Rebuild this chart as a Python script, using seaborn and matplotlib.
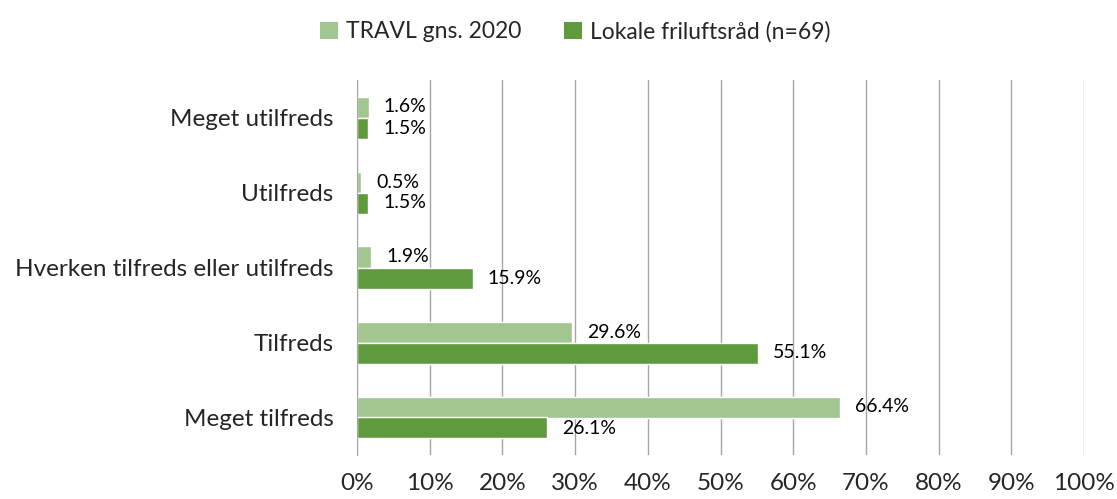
import matplotlib
matplotlib.use('Agg')
import matplotlib.pyplot as plt
import seaborn as sns
import pandas as pd
import numpy as np
from matplotlib.patches import Patch

categories = ['Meget utilfreds', 'Utilfreds', 'Hverken tilfreds eller utilfreds', 'Tilfreds', 'Meget tilfreds']
series_names = ['TRAVL gns. 2020', 'Lokale friluftsråd (n=69)']
travl = [1.6, 0.5, 1.9, 29.6, 66.4]
lokale = [1.5, 1.5, 15.9, 55.1, 26.1]
colors = ['#a2c690', '#5f9a3e']

sns.set_style('white')
plt.rcParams['font.family'] = ['Lato', 'DejaVu Sans']

df = pd.DataFrame({
    'Kategori': categories * 2,
    'Andel': travl + lokale,
    'Serie': [series_names[0]] * len(categories) + [series_names[1]] * len(categories),
})

fig = plt.figure(figsize=(11.17, 4.99), dpi=100)
ax = fig.add_axes([357 / 1117, 44 / 499, 727 / 1117, 375 / 499])

sns.barplot(data=df, x='Andel', y='Kategori', hue='Serie', order=categories,
            hue_order=series_names, palette=colors, width=0.56, gap=0,
            saturation=1, ax=ax, legend=False)

# dataetiketter
for cont in ax.containers:
    ax.bar_label(cont, labels=[f'{v:.1f}%' for v in cont.datavalues], padding=11,
                 fontsize=14, color='#000000')

ax.set_xlim(0, 100)
ax.set_ylim(len(categories) - 0.5, -0.5)
ax.set_xticks(np.arange(0, 101, 10))
ax.set_xticklabels([f'{t}%' for t in range(0, 101, 10)], fontsize=17.5)
ax.set_yticks(range(len(categories)))
ax.set_yticklabels(categories, fontsize=17.5)
ax.set_yticks(np.arange(-0.5, len(categories)), minor=True)
ax.tick_params(axis='y', which='major', length=0, pad=17)
ax.tick_params(axis='y', which='minor', length=8, color='#a6a6a6', width=1)
ax.tick_params(axis='x', which='major', length=7, color='#a6a6a6', width=1, pad=6)
ax.xaxis.grid(True, color='#a6a6a6', linewidth=1)
ax.set_axisbelow(True)
ax.set_xlabel('')
ax.set_ylabel('')
for side in ['top', 'right', 'bottom']:
    ax.spines[side].set_visible(False)
ax.spines['left'].set_color('#a6a6a6')

handles = [Patch(facecolor=c, edgecolor='none') for c in colors]
fig.legend(handles, series_names, loc='upper center', bbox_to_anchor=(0.515, 1.0), ncol=2,
           frameon=False, fontsize=16.5, handlelength=0.75, handleheight=0.75,
           handletextpad=0.35, columnspacing=1.9)

fig.savefig('out.png', dpi=100)
